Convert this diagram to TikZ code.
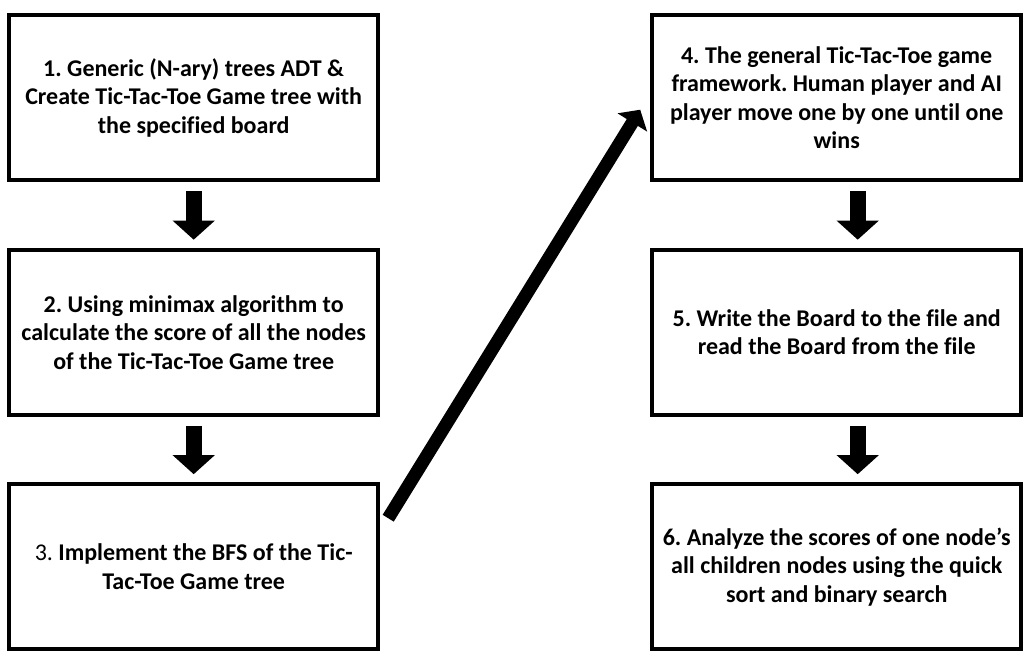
\documentclass[tikz,border=0pt]{standalone}
\usepackage{fontspec}
\setmainfont{Carlito}[Ligatures=CommonOff]
\usetikzlibrary{arrows.meta}
\usetikzlibrary{matrix}
\frenchspacing

\tikzstyle{stepbox}=[draw,line width=4pt,minimum width=369pt,minimum height=165pt,inner sep=0pt,align=center,font=\fontsize{24}{28.5}\selectfont\bfseries]
\tikzstyle{blockhead}=[>/.tip={Triangle[length=19pt,width=41pt]}]
\tikzstyle{blk}=[line width=16pt,blockhead,->,shorten <=9pt,shorten >=8pt]
\tikzstyle{jump}=[line width=13pt,>/.tip={Triangle[length=15pt,width=34pt]},->]

\begin{document}
\begin{tikzpicture}[x=1pt,y=-1pt]
	\useasboundingbox (0,0) rectangle (1027,662);
	\matrix (m) [matrix anchor=north west,inner sep=0pt,row sep=65.5pt,column sep=270pt] at (7,13) {
	  		\node[stepbox] (b1) {1. Generic (N-ary) trees ADT \&\\Create Tic-Tac-Toe Game tree with\\the specified board}; &
	  		\node[stepbox] (b4) {4. The general Tic-Tac-Toe game\\framework. Human player and AI\\player move one by one until one\\wins};
	\\		\node[stepbox] (b2) {2. Using minimax algorithm to\\calculate the score of all the nodes\\of the Tic-Tac-Toe Game tree}; &
	  		\node[stepbox] (b5) {5. Write the Board to the file and\\read the Board from the file};
	\\		\node[stepbox] (b3) {{\mdseries 3.} Implement the BFS of the Tic-\\Tac-Toe Game tree}; &
	  		\node[stepbox] (b6) {6. Analyze the scores of one node’s\\all children nodes using the quick\\sort and binary search};
	\\ };
	\draw[blk] (b1) -- (b2);
	\draw[blk] (b2) -- (b3);
	\draw[blk] ([xshift=21pt]b4.south) -- ([xshift=21pt]b5.north);
	\draw[blk] ([xshift=21pt]b5.south) -- ([xshift=21pt]b6.north);
	\draw[jump] ([shift={(8,36)}]b3.north east) -- ([shift={(-10,12)}]b4.west);
\end{tikzpicture}
\end{document}
